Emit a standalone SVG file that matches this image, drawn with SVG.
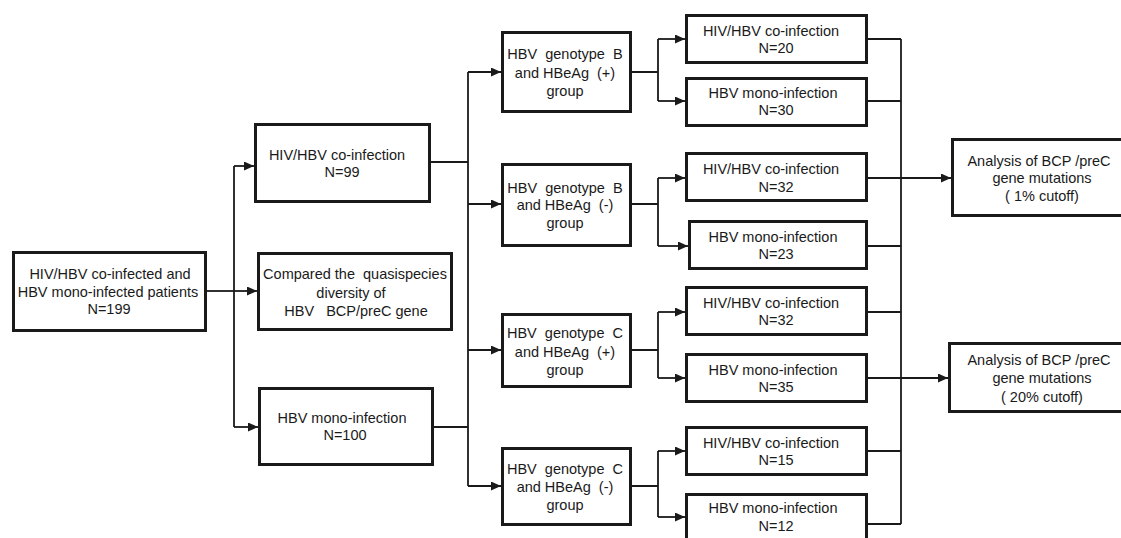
<svg xmlns="http://www.w3.org/2000/svg" width="1121" height="538" viewBox="0 0 1121 538">
<defs>
<marker id="arr" markerUnits="userSpaceOnUse" markerWidth="11" markerHeight="10" refX="10" refY="4.5" orient="auto">
<path d="M0,0 L10,4.5 L0,9 z" fill="#1a1a1a"/>
</marker>
<style>
rect.box{fill:#fff;stroke:#1a1a1a;stroke-width:3}
text{font-family:"Liberation Sans",Arial,sans-serif;font-size:14.5px;fill:#1a1a1a;text-anchor:middle;white-space:pre}
.c path{fill:none;stroke:#1a1a1a;stroke-width:1.8}
.c path.a{marker-end:url(#arr)}
</style>
</defs>
<rect width="1121" height="538" fill="#fff"/>
<g class="c" id="connectors">
<path d="M207,291 H234"/>
<path d="M234,166 V427"/>
<path class="a" d="M234,166 H254"/>
<path class="a" d="M234,291 H257"/>
<path class="a" d="M234,427 H258"/>
<path d="M431,162 H468"/>
<path d="M434,427 H468"/>
<path d="M468,72 V486"/>
<path class="a" d="M468,72 H501"/>
<path class="a" d="M468,204 H501"/>
<path class="a" d="M468,350 H501"/>
<path class="a" d="M468,486 H501"/>
<path d="M632,72 H658 M658,39 V101"/>
<path class="a" d="M658,39 H685"/>
<path class="a" d="M658,101 H685"/>
<path d="M632,204 H658 M658,178 V246"/>
<path class="a" d="M658,178 H685"/>
<path class="a" d="M658,246 H688"/>
<path d="M632,350 H658 M658,312 V378"/>
<path class="a" d="M658,312 H685"/>
<path class="a" d="M658,378 H685"/>
<path d="M632,486 H658 M658,451 V517"/>
<path class="a" d="M658,451 H685"/>
<path class="a" d="M658,517 H685"/>
<path d="M868,39 H901 M868,101 H901 M868,246 H901 M868,312 H901 M868,451 H901 M868,524 H901"/>
<path d="M901,39 V524"/>
<path class="a" d="M868,178 H951"/>
<path class="a" d="M868,378 H948"/>
</g>
<g id="root">
<rect class="box" x="13.5" y="252.5" width="192" height="78"/>
<text x="110" y="279">HIV/HBV co-infected and</text>
<text x="108" y="297">HBV mono-infected patients</text>
<text x="109" y="314">N=199</text>
</g>
<g id="coinf">
<rect class="box" x="255.5" y="124.5" width="174" height="77"/>
<text x="337" y="160">HIV/HBV co-infection</text>
<text x="342" y="177">N=99</text>
</g>
<g id="compare">
<rect class="box" x="258.5" y="253.5" width="193" height="76"/>
<text x="355" y="279">Compared the  quasispecies</text>
<text x="351" y="298">diversity of</text>
<text x="356" y="316">HBV   BCP/preC gene</text>
</g>
<g id="mono">
<rect class="box" x="259.5" y="388.5" width="173" height="76"/>
<text x="342" y="423">HBV mono-infection</text>
<text x="345" y="440">N=100</text>
</g>
<g id="bpos">
<rect class="box" x="502.5" y="32.5" width="128" height="79"/>
<text x="565" y="59">HBV  genotype  B</text>
<text x="565" y="78">and HBeAg  (+)</text>
<text x="565" y="96">group</text>
</g>
<g id="bneg">
<rect class="box" x="502.5" y="164.5" width="128" height="81"/>
<text x="565" y="193">HBV  genotype  B</text>
<text x="565" y="210">and HBeAg  (-)</text>
<text x="565" y="228">group</text>
</g>
<g id="cpos">
<rect class="box" x="502.5" y="314.5" width="128" height="72"/>
<text x="565" y="338">HBV  genotype  C</text>
<text x="565" y="357">and HBeAg  (+)</text>
<text x="565" y="375">group</text>
</g>
<g id="cneg">
<rect class="box" x="502.5" y="448.5" width="128" height="76"/>
<text x="565" y="474">HBV  genotype  C</text>
<text x="565" y="492">and HBeAg  (-)</text>
<text x="565" y="510">group</text>
</g>
<g id="leaf1">
<rect class="box" x="686.5" y="15.5" width="180" height="47"/>
<text x="771" y="36">HIV/HBV co-infection</text>
<text x="776" y="53">N=20</text>
</g>
<g id="leaf2">
<rect class="box" x="686.5" y="78.5" width="180" height="47"/>
<text x="773" y="98">HBV mono-infection</text>
<text x="776" y="115">N=30</text>
</g>
<g id="leaf3">
<rect class="box" x="686.5" y="153.5" width="180" height="47"/>
<text x="771" y="174">HIV/HBV co-infection</text>
<text x="776" y="192">N=32</text>
</g>
<g id="leaf4">
<rect class="box" x="689.5" y="221.5" width="177" height="47"/>
<text x="773" y="242">HBV mono-infection</text>
<text x="776" y="259">N=23</text>
</g>
<g id="leaf5">
<rect class="box" x="686.5" y="287.5" width="180" height="47"/>
<text x="771" y="308">HIV/HBV co-infection</text>
<text x="776" y="325">N=32</text>
</g>
<g id="leaf6">
<rect class="box" x="686.5" y="354.5" width="180" height="47"/>
<text x="773" y="375">HBV mono-infection</text>
<text x="776" y="392">N=35</text>
</g>
<g id="leaf7">
<rect class="box" x="686.5" y="427.5" width="180" height="47"/>
<text x="771" y="448">HIV/HBV co-infection</text>
<text x="776" y="465">N=15</text>
</g>
<g id="leaf8">
<rect class="box" x="686.5" y="494.5" width="180" height="47"/>
<text x="773" y="513">HBV mono-infection</text>
<text x="776" y="531">N=12</text>
</g>
<g id="analysis1">
<rect class="box" x="952.5" y="139.5" width="180" height="76"/>
<text x="1039" y="166">Analysis of BCP /preC</text>
<text x="1042" y="183">gene mutations</text>
<text x="1042" y="201">( 1% cutoff)</text>
</g>
<g id="analysis2">
<rect class="box" x="949.5" y="343.5" width="180" height="68"/>
<text x="1039" y="365">Analysis of BCP /preC</text>
<text x="1042" y="383">gene mutations</text>
<text x="1042" y="402">( 20% cutoff)</text>
</g>
</svg>
